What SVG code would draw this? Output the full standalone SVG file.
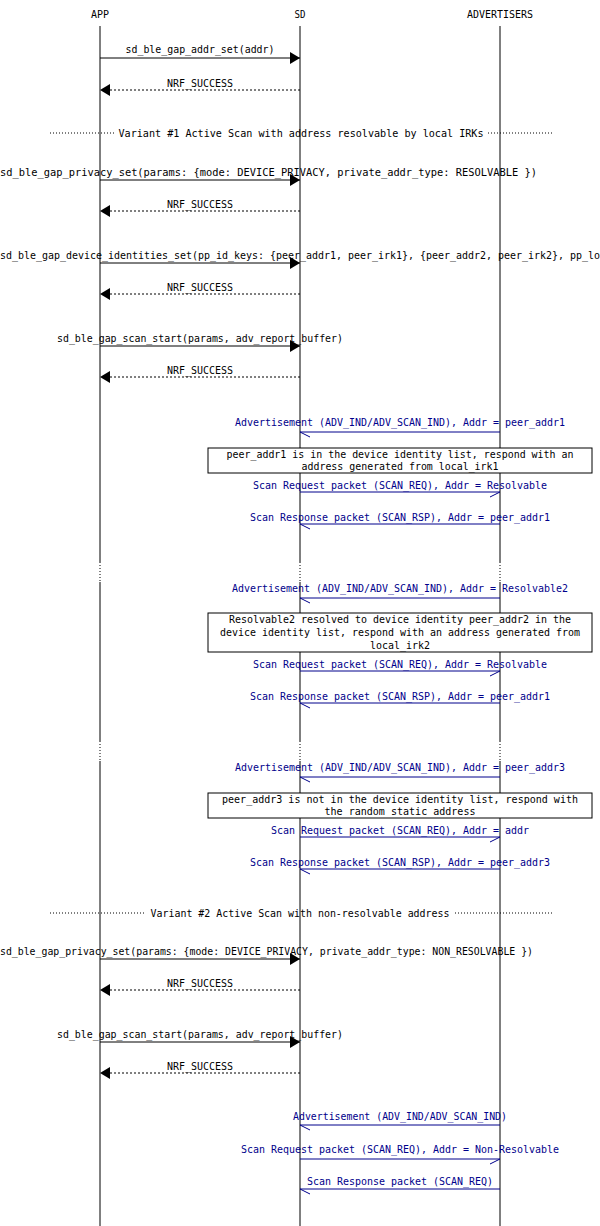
<svg xmlns="http://www.w3.org/2000/svg" width="600" height="1226" viewBox="0 0 600 1226">
<defs>
<style>
text{font-family:"DejaVu Sans Mono","Liberation Mono",monospace;font-size:11px;text-anchor:middle;fill:#000}
.b{fill:#00008b}
.life{stroke:#000;stroke-width:1}
.gap{stroke:#fff;stroke-width:3}
.dot{stroke:#000;stroke-dasharray:1,2}
.m{stroke:#000;fill:none}
.r{stroke:#000;fill:none;stroke-dasharray:2,2}
.a{stroke:#00008b;fill:none}
.box{fill:#fff;stroke:#000}
</style>
<marker id="fh" markerWidth="12" markerHeight="12" refX="10" refY="6" orient="auto" markerUnits="userSpaceOnUse"><path d="M0,0 L10,6 L0,12 Z" fill="#000"/></marker>
</defs>
<g id="headers"><text x="100" y="18" textLength="18" lengthAdjust="spacingAndGlyphs">APP</text><text x="300" y="18" textLength="11" lengthAdjust="spacingAndGlyphs">SD</text><text x="500" y="18" textLength="66" lengthAdjust="spacingAndGlyphs">ADVERTISERS</text></g>
<g id="lifelines">
<line class="life" x1="100" y1="26" x2="100" y2="1226"/><line class="life" x1="300" y1="26" x2="300" y2="1226"/><line class="life" x1="500" y1="26" x2="500" y2="1226"/>
<line class="gap" x1="100" y1="562" x2="100" y2="582"/><line class="gap" x1="300" y1="562" x2="300" y2="582"/><line class="gap" x1="500" y1="562" x2="500" y2="582"/>
<line class="dot" x1="100" y1="562" x2="100" y2="582"/><line class="dot" x1="300" y1="562" x2="300" y2="582"/><line class="dot" x1="500" y1="562" x2="500" y2="582"/>
<line class="gap" x1="100" y1="741" x2="100" y2="761"/><line class="gap" x1="300" y1="741" x2="300" y2="761"/><line class="gap" x1="500" y1="741" x2="500" y2="761"/>
<line class="dot" x1="100" y1="741" x2="100" y2="761"/><line class="dot" x1="300" y1="741" x2="300" y2="761"/><line class="dot" x1="500" y1="741" x2="500" y2="761"/>
</g>
<g id="dividers">
<line class="dot" x1="50" y1="133" x2="114" y2="133"/><line class="dot" x1="488" y1="133" x2="552" y2="133"/>
<text x="301" y="137" textLength="365" lengthAdjust="spacingAndGlyphs">Variant #1 Active Scan with address resolvable by local IRKs</text>
<line class="dot" x1="50" y1="913" x2="146" y2="913"/><line class="dot" x1="455" y1="913" x2="552" y2="913"/>
<text x="300" y="917" textLength="299" lengthAdjust="spacingAndGlyphs">Variant #2 Active Scan with non-resolvable address</text>
</g>
<g id="connectors">
<line class="m" x1="100" y1="58" x2="300" y2="58" marker-end="url(#fh)"/><text x="200" y="53" textLength="149" lengthAdjust="spacingAndGlyphs">sd_ble_gap_addr_set(addr)</text>
<line class="r" x1="300" y1="90" x2="100" y2="90" marker-end="url(#fh)"/><text x="200" y="87" textLength="66" lengthAdjust="spacingAndGlyphs">NRF_SUCCESS</text>
<line class="m" x1="100" y1="180" x2="300" y2="180" marker-end="url(#fh)"/><text x="268.5" y="176" textLength="537" lengthAdjust="spacingAndGlyphs">sd_ble_gap_privacy_set(params: {mode: DEVICE_PRIVACY, private_addr_type: RESOLVABLE })</text>
<line class="r" x1="300" y1="211" x2="100" y2="211" marker-end="url(#fh)"/><text x="200" y="208" textLength="66" lengthAdjust="spacingAndGlyphs">NRF_SUCCESS</text>
<line class="m" x1="100" y1="263" x2="300" y2="263" marker-end="url(#fh)"/><text x="0" y="259" style="text-anchor:start" textLength="600" lengthAdjust="spacingAndGlyphs">sd_ble_gap_device_identities_set(pp_id_keys: {peer_addr1, peer_irk1}, {peer_addr2, peer_irk2}, pp_lo</text>
<line class="r" x1="300" y1="294" x2="100" y2="294" marker-end="url(#fh)"/><text x="200" y="291" textLength="66" lengthAdjust="spacingAndGlyphs">NRF_SUCCESS</text>
<line class="m" x1="100" y1="346" x2="300" y2="346" marker-end="url(#fh)"/><text x="200" y="342" textLength="286" lengthAdjust="spacingAndGlyphs">sd_ble_gap_scan_start(params, adv_report_buffer)</text>
<line class="r" x1="300" y1="377" x2="100" y2="377" marker-end="url(#fh)"/><text x="200" y="374" textLength="66" lengthAdjust="spacingAndGlyphs">NRF_SUCCESS</text>

<path class="a" d="M500,432 H300 L310,437"/><text class="b" x="400" y="426" textLength="330" lengthAdjust="spacingAndGlyphs">Advertisement (ADV_IND/ADV_SCAN_IND), Addr = peer_addr1</text>
<path class="a" d="M300,492 H500 L490,497"/><text class="b" x="400" y="489" textLength="294" lengthAdjust="spacingAndGlyphs">Scan Request packet (SCAN_REQ), Addr = Resolvable</text>
<path class="a" d="M500,524 H300 L310,529"/><text class="b" x="400" y="521" textLength="300" lengthAdjust="spacingAndGlyphs">Scan Response packet (SCAN_RSP), Addr = peer_addr1</text>

<path class="a" d="M500,598 H300 L310,603"/><text class="b" x="400" y="592" textLength="336" lengthAdjust="spacingAndGlyphs">Advertisement (ADV_IND/ADV_SCAN_IND), Addr = Resolvable2</text>
<path class="a" d="M300,671 H500 L490,676"/><text class="b" x="400" y="668" textLength="294" lengthAdjust="spacingAndGlyphs">Scan Request packet (SCAN_REQ), Addr = Resolvable</text>
<path class="a" d="M500,703 H300 L310,708"/><text class="b" x="400" y="700" textLength="300" lengthAdjust="spacingAndGlyphs">Scan Response packet (SCAN_RSP), Addr = peer_addr1</text>

<path class="a" d="M500,777 H300 L310,782"/><text class="b" x="400" y="771" textLength="330" lengthAdjust="spacingAndGlyphs">Advertisement (ADV_IND/ADV_SCAN_IND), Addr = peer_addr3</text>
<path class="a" d="M300,837 H500 L490,842"/><text class="b" x="400" y="834" textLength="258" lengthAdjust="spacingAndGlyphs">Scan Request packet (SCAN_REQ), Addr = addr</text>
<path class="a" d="M500,869 H300 L310,874"/><text class="b" x="400" y="866" textLength="300" lengthAdjust="spacingAndGlyphs">Scan Response packet (SCAN_RSP), Addr = peer_addr3</text>

<line class="m" x1="100" y1="959" x2="300" y2="959" marker-end="url(#fh)"/><text x="266.5" y="955" textLength="533" lengthAdjust="spacingAndGlyphs">sd_ble_gap_privacy_set(params: {mode: DEVICE_PRIVACY, private_addr_type: NON_RESOLVABLE })</text>
<line class="r" x1="300" y1="990" x2="100" y2="990" marker-end="url(#fh)"/><text x="200" y="987" textLength="66" lengthAdjust="spacingAndGlyphs">NRF_SUCCESS</text>
<line class="m" x1="100" y1="1042" x2="300" y2="1042" marker-end="url(#fh)"/><text x="200" y="1038" textLength="286" lengthAdjust="spacingAndGlyphs">sd_ble_gap_scan_start(params, adv_report_buffer)</text>
<line class="r" x1="300" y1="1073" x2="100" y2="1073" marker-end="url(#fh)"/><text x="200" y="1070" textLength="66" lengthAdjust="spacingAndGlyphs">NRF_SUCCESS</text>

<path class="a" d="M500,1125 H300 L310,1130"/><text class="b" x="400" y="1120" textLength="214" lengthAdjust="spacingAndGlyphs">Advertisement (ADV_IND/ADV_SCAN_IND)</text>
<path class="a" d="M300,1159 H500 L490,1164"/><text class="b" x="400" y="1153" textLength="318" lengthAdjust="spacingAndGlyphs">Scan Request packet (SCAN_REQ), Addr = Non-Resolvable</text>
<path class="a" d="M500,1189 H300 L310,1194"/><text class="b" x="400" y="1185" textLength="186" lengthAdjust="spacingAndGlyphs">Scan Response packet (SCAN_REQ)</text>
</g>
<g id="box1"><rect class="box" x="208" y="448" width="384" height="25"/><text x="400" y="458" textLength="347" lengthAdjust="spacingAndGlyphs">peer_addr1 is in the device identity list, respond with an</text><text x="400" y="470" textLength="197" lengthAdjust="spacingAndGlyphs">address generated from local_irk1</text></g>
<g id="box2"><rect class="box" x="208" y="613" width="384" height="39"/><text x="400" y="623" textLength="342" lengthAdjust="spacingAndGlyphs">Resolvable2 resolved to device identity peer_addr2 in the</text><text x="400" y="636" textLength="360" lengthAdjust="spacingAndGlyphs">device identity list, respond with an address generated from</text><text x="400" y="649" textLength="60" lengthAdjust="spacingAndGlyphs">local_irk2</text></g>
<g id="box3"><rect class="box" x="208" y="793" width="384" height="25"/><text x="400" y="803" textLength="356" lengthAdjust="spacingAndGlyphs">peer_addr3 is not in the device identity list, respond with</text><text x="400" y="815" textLength="151" lengthAdjust="spacingAndGlyphs">the random static address</text></g>
</svg>
